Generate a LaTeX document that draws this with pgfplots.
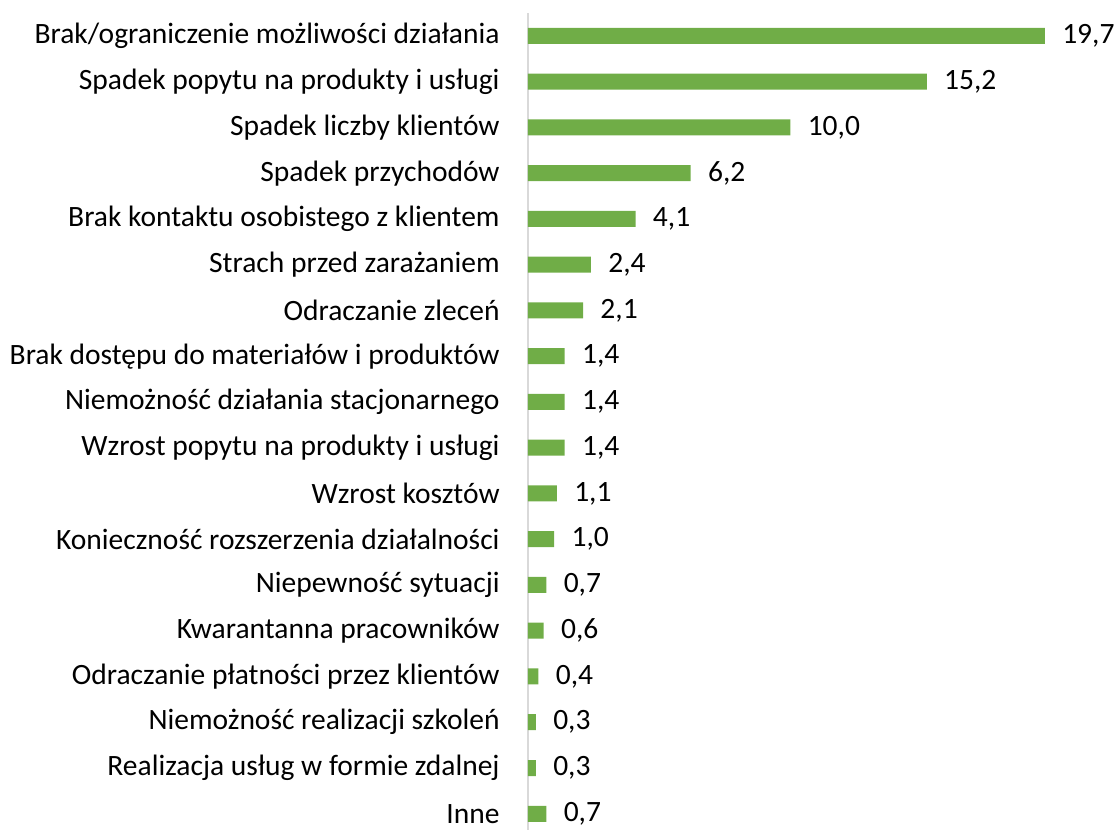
\documentclass[border=0pt]{standalone}
\usepackage{pgfplots}
\pgfplotsset{compat=1.18}
\usepackage{fontspec}
\setmainfont{Carlito}
\definecolor{barg}{HTML}{70AD47}
\definecolor{axg}{HTML}{D9D9D9}
\begin{document}
\begin{tikzpicture}
\begin{axis}[
  at={(0,0)}, anchor=south west,
  scale only axis, width=294pt, height=408.5pt,
  xbar, bar width=8pt,
  y dir=reverse,
  xmin=0, xmax=22.41, ymin=-0.5, ymax=17.355,
  axis x line=none,
  axis y line*=left,
  y axis line style={draw=axg, line width=1pt, -},
  ytick={0,...,17},
  yticklabels={
    Brak/ograniczenie możliwości działania,
    Spadek popytu na produkty i usługi,
    Spadek liczby klientów,
    Spadek przychodów,
    Brak kontaktu osobistego z klientem,
    Strach przed zarażaniem,
    Odraczanie zleceń,
    Brak dostępu do materiałów i produktów,
    Niemożność działania stacjonarnego,
    Wzrost popytu na produkty i usługi,
    Wzrost kosztów,
    Konieczność rozszerzenia działalności,
    Niepewność sytuacji,
    Kwarantanna pracowników,
    Odraczanie płatności przez klientów,
    Niemożność realizacji szkoleń,
    Realizacja usług w formie zdalnej,
    Inne},
  major tick length=0pt,
  yticklabel style={font=\fontsize{14.75pt}{17pt}\selectfont, text=black, anchor=east, inner sep=0pt, xshift=-14pt},
  nodes near coords,
  nodes near coords style={font=\fontsize{14.75pt}{17pt}\selectfont, text=black, anchor=west, inner sep=0pt, xshift=8.5pt},
  /pgf/number format/.cd, use comma, fixed, fixed zerofill, precision=1, 1000 sep={}, assume math mode=true,
]
\addplot[fill=barg, draw=none, bar shift=0pt] coordinates {
(19.7,0) (15.2,1) (10.0,2) (6.2,3) (4.1,4) (2.4,5) (2.1,6) (1.4,7) (1.4,8)
(1.4,9) (1.1,10) (1.0,11) (0.7,12) (0.6,13) (0.4,14) (0.3,15) (0.3,16) (0.7,17)
};
\end{axis}
\pgfresetboundingbox
\useasboundingbox (-264pt,0pt) rectangle (294pt,415pt);
\end{tikzpicture}
\end{document}
